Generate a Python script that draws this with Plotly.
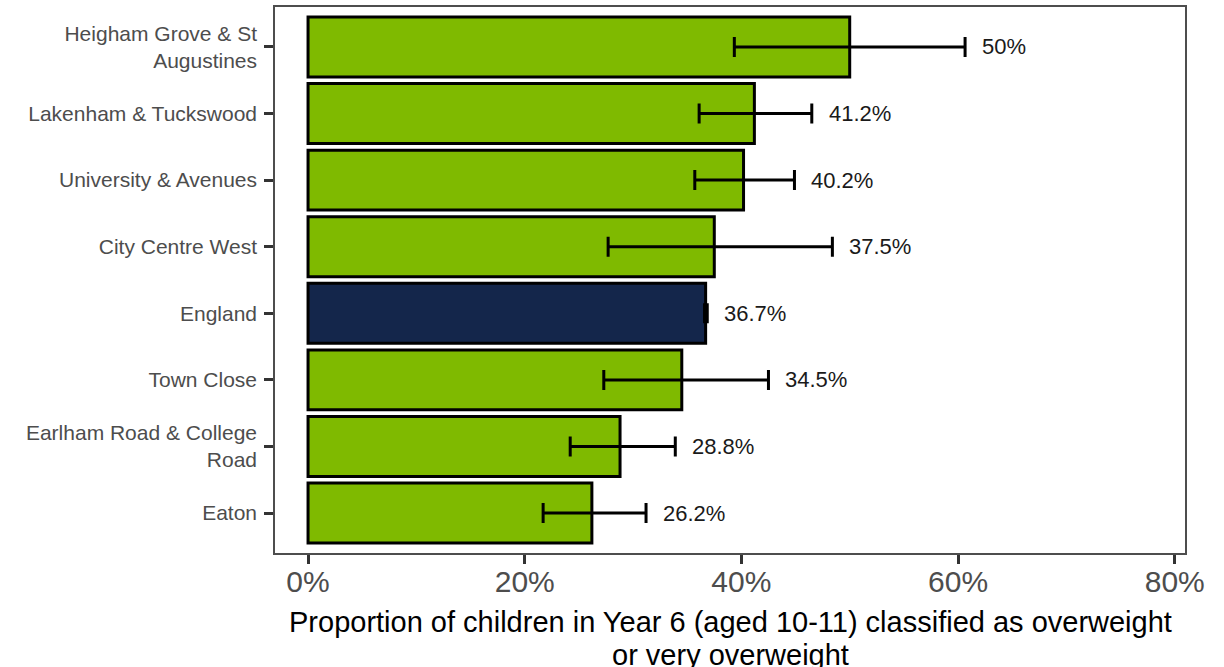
import plotly.graph_objects as go

# Year 6 overweight prevalence by area, with confidence intervals
areas = [
    "Heigham Grove & St<br>Augustines",
    "Lakenham & Tuckswood",
    "University & Avenues",
    "City Centre West",
    "England",
    "Town Close",
    "Earlham Road & College<br>Road",
    "Eaton",
]
values = [50.0, 41.2, 40.2, 37.5, 36.7, 34.5, 28.8, 26.2]
lower_ci = [39.35, 36.1, 35.7, 27.7, 36.6, 27.3, 24.2, 21.7]
upper_ci = [60.65, 46.5, 44.9, 48.4, 36.85, 42.5, 33.9, 31.2]
x_ticks = [0, 20, 40, 60, 80]
x_title = ["Proportion of children in Year 6 (aged 10-11) classified as overweight",
           "or very overweight"]

green = "#7FBA00"
navy = "#14264B"
colors = [navy if a == "England" else green for a in areas]

err_plus = [u - v for u, v in zip(upper_ci, values)]
err_minus = [v - l for v, l in zip(values, lower_ci)]

fig = go.Figure()

fig.add_trace(go.Bar(
    y=areas,
    x=values,
    orientation="h",
    width=0.9,
    marker=dict(color=colors, line=dict(color="black", width=3)),
    error_x=dict(
        type="data",
        symmetric=False,
        array=err_plus,
        arrayminus=err_minus,
        color="black",
        thickness=3,
        width=10,
    ),
    hovertemplate="%{y}: %{x}%<extra></extra>",
))

# value labels to the right of each upper CI
for a, v, u in zip(areas, values, upper_ci):
    fig.add_annotation(
        x=u, y=a, text=f"{v:g}%", showarrow=False,
        xanchor="left", xshift=15,
        font=dict(family="Liberation Sans, Arial", size=22, color="#1a1a1a"),
    )

# axis title as two lines, tighter spacing than plotly's default title
for line, yp in zip(x_title, [-0.1264, -0.1868]):
    fig.add_annotation(
        x=0.5, y=yp, xref="paper", yref="paper", text=line, showarrow=False,
        xanchor="center", yanchor="middle",
        font=dict(family="Liberation Sans, Arial", size=29, color="black"),
    )

fig.update_layout(
    width=1224,
    height=667,
    margin=dict(l=275, r=39, t=7, b=114),
    paper_bgcolor="white",
    plot_bgcolor="white",
    showlegend=False,
    font=dict(family="Liberation Sans, Arial", color="#4D4D4D"),
)

fig.update_xaxes(
    range=[-3.05, 80.95],
    tickvals=x_ticks,
    ticktext=[f"{t}%" for t in x_ticks],
    tickfont=dict(size=30, color="#4D4D4D"),
    ticks="outside", ticklen=9, tickwidth=2.5, tickcolor="#333333",
    ticklabelstandoff=-8,
    showline=True, linecolor="#4D4D4D", linewidth=1.5, mirror=True,
    showgrid=False, zeroline=False, automargin=False,
)

fig.update_yaxes(
    range=[7.6, -0.6],
    tickfont=dict(size=21, color="#4D4D4D"),
    ticks="outside", ticklen=9, tickwidth=2.5, tickcolor="#333333",
    ticklabelstandoff=3,
    showline=True, linecolor="#4D4D4D", linewidth=1.5, mirror=True,
    showgrid=False, zeroline=False, automargin=False,
)

fig.write_html("out.html", config={"displayModeBar": False},
               post_script="document.body.style.margin='0';")
